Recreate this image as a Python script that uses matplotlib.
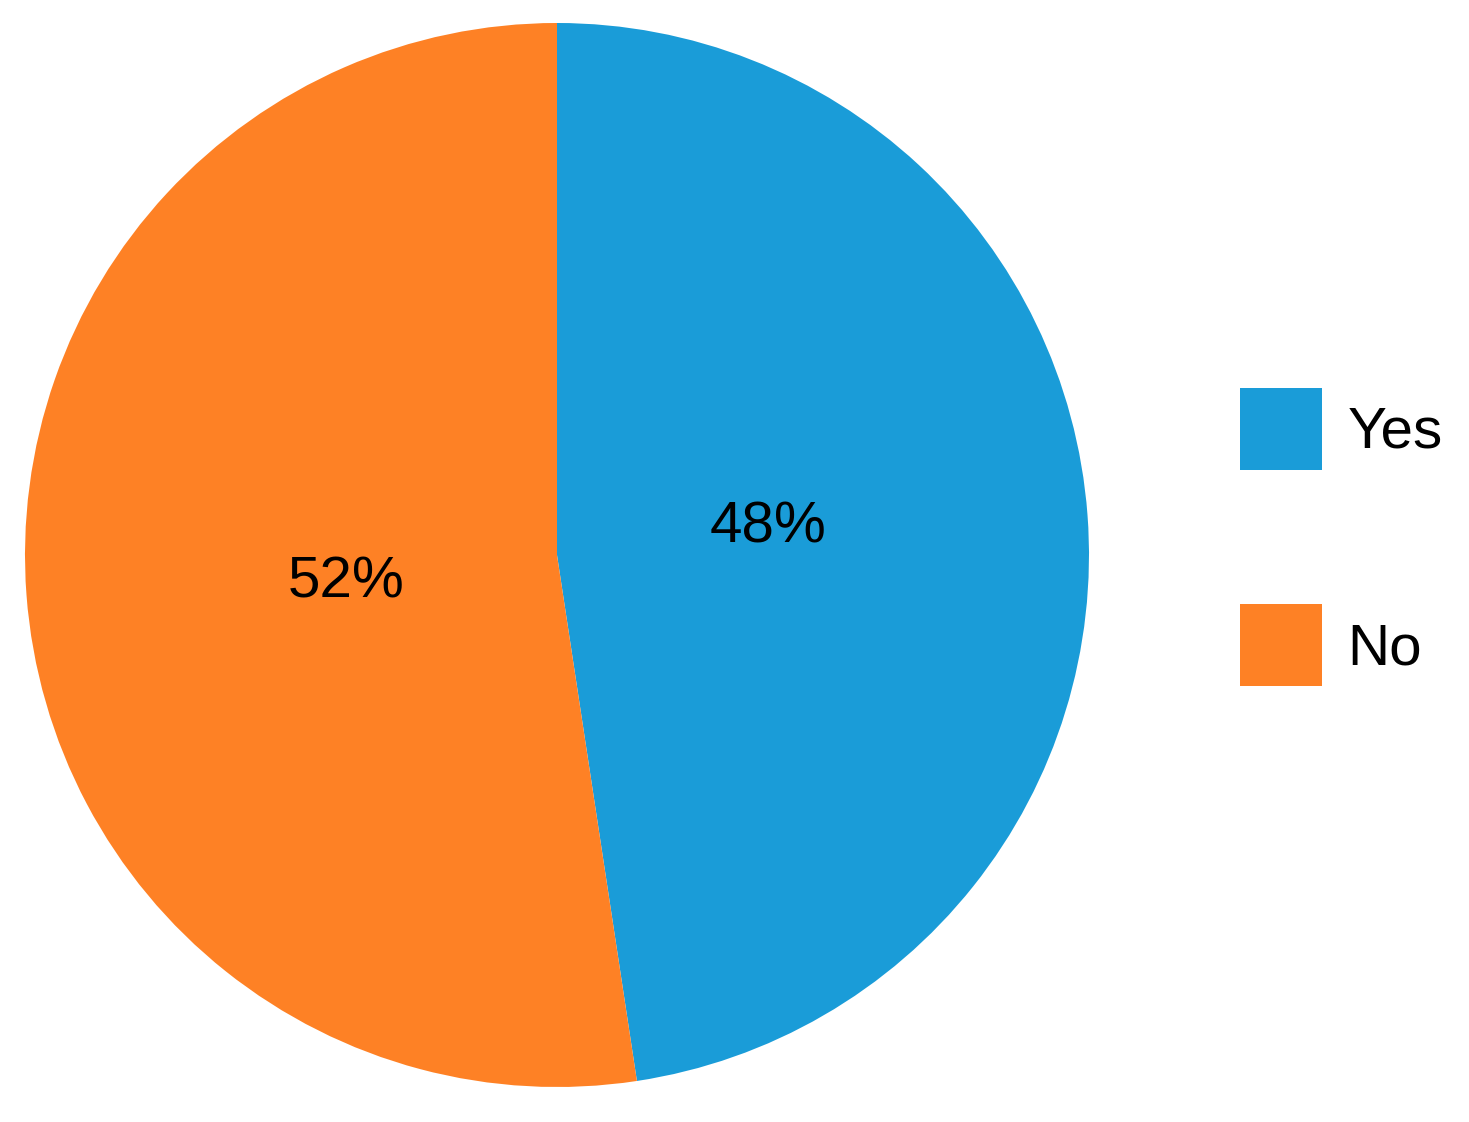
import numpy as np
import matplotlib.pyplot as plt

plt.rcParams['font.family'] = ['Liberation Sans', 'DejaVu Sans']

# data
labels = ['Yes', 'No']
values = [47.6, 52.4]
colors = ['#1A9CD8', '#FE8125']

fig = plt.figure(figsize=(14.69, 11.22), dpi=100)
ax = fig.add_axes([25 / 1469, 35 / 1122, 1064 / 1469, 1064 / 1122])

wedges, texts, autotexts = ax.pie(values, colors=colors, startangle=90, counterclock=False,
                                  autopct='%.0f%%', pctdistance=0.4,
                                  textprops={'fontsize': 42, 'color': 'black'})
# nudge the percentage labels a few degrees round the centre
rot = np.deg2rad(3)
for t in autotexts:
    x, y = t.get_position()
    t.set_position((x * np.cos(rot) - y * np.sin(rot), x * np.sin(rot) + y * np.cos(rot)))

ax.set_xlim(-1, 1)
ax.set_ylim(-1, 1)
ax.set_aspect('equal')

fig.legend(wedges, labels, loc='upper left', bbox_to_anchor=(1240 / 1469, 1 - 388 / 1122),
           frameon=False, fontsize=42, handlelength=1.41, handleheight=1.79,
           handletextpad=0.43, labelspacing=2.30, borderpad=0, borderaxespad=0)

fig.savefig('out.png', dpi=100, facecolor='white')
